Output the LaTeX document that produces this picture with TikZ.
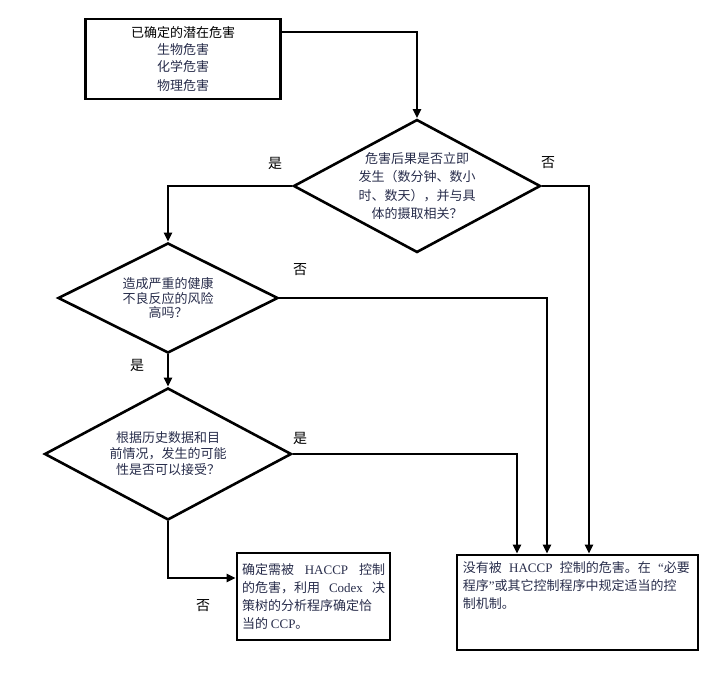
\documentclass[tikz,border=0pt]{standalone}
\usepackage{fontspec}
\setmainfont{Noto Sans CJK SC}
\newfontfamily\lat{Liberation Serif}
\usetikzlibrary{shapes.geometric,arrows.meta}
\XeTeXlinebreaklocale "zh"
\XeTeXlinebreakskip=0pt plus 1pt
\definecolor{testo}{RGB}{40,45,75}
\newcommand{\riga}[2]{\makebox[#1][s]{#2}}

\begin{document}
\begin{tikzpicture}[x=1pt, y=-1pt,
	every node/.style={font=\fontsize{13}{18}\selectfont},
	riquadro/.style={draw, rectangle, line width=2.6pt, inner sep=0pt},
	rombo/.style={draw, diamond, aspect=1.9, line width=2.6pt, inner sep=-10pt, align=center, text=testo},
	freccia/.style={line width=2.6pt, -{Triangle[length=9pt, width=8pt]}},
	etichetta/.style={font=\fontsize{14}{14}\selectfont}]
		\useasboundingbox (0,0) rectangle (717,699);

		% riquadri
		\node[riquadro, minimum width=195pt, minimum height=80pt, align=center, font=\fontsize{13}{17}\selectfont] (pericoli) at (183,59) {已确定的潜在危害\\{\color{testo}生物危害}\\{\color{testo}化学危害}\\[2pt]{\color{testo}物理危害}};
		\node[riquadro, minimum width=153pt, minimum height=87pt, align=left, text=testo] (ccp) at (313.5,596.5) {\riga{143pt}{确定需被 {\lat HACCP} 控制}\\\riga{143pt}{的危害，利用 {\lat Codex} 决}\\\riga{143pt}{策树的分析程序确定恰}\\当的 {\lat CCP}。};
		\node[riquadro, minimum width=241pt, minimum height=95pt] (altri) at (577.5,602.5) {};
		\node[anchor=north west, inner sep=0pt, align=left, text=testo] (altritesto) at ([xshift=7pt, yshift=-8pt]altri.north west) {\riga{227pt}{没有被 {\lat HACCP} 控制的危害。在 {\lat “}必要}\\\riga{227pt}{程序{\lat ”}或其它控制程序中规定适当的控}\\制机制。};

		% rombi
		\node[rombo, minimum width=247pt, minimum height=133pt, font=\fontsize{13}{18.5}\selectfont] (effetto) at (417,186) {危害后果是否立即\\发生（数分钟、数小\\时、数天），并与具\\体的摄取相关？};
		\node[rombo, minimum width=220pt, minimum height=110pt, font=\fontsize{13}{14.5}\selectfont] (rischio) at (168,298) {造成严重的健康\\不良反应的风险\\高吗？};
		\node[rombo, minimum width=247pt, minimum height=132pt, font=\fontsize{13}{16}\selectfont] (storico) at (168,454) {根据历史数据和目\\前情况，发生的可能\\性是否可以接受？};

		% frecce
		\draw[freccia] ([yshift=27pt]pericoli.east) -| (effetto.north);
		\draw[freccia] (effetto.west) -| (rischio.north);
		\draw[freccia] (effetto.east) -| ([xshift=11.5pt]altri.north);
		\draw[freccia] (rischio.east) -| ([xshift=-30.5pt]altri.north);
		\draw[freccia] (rischio.south) -- (storico.north);
		\draw[freccia] (storico.east) -| ([xshift=-60.5pt]altri.north);
		\draw[freccia] (storico.south) |- ([yshift=18.5pt]ccp.west);

		% etichette
		\node[etichetta] (si1) at (275,163) {是};
		\node[etichetta] (no1) at (548,163) {否};
		\node[etichetta] (no2) at (300,270) {否};
		\node[etichetta] (si2) at (137,365) {是};
		\node[etichetta] (si3) at (300,438) {是};
		\node[etichetta] (no3) at (203,606) {否};
	\end{tikzpicture}
\end{document}
